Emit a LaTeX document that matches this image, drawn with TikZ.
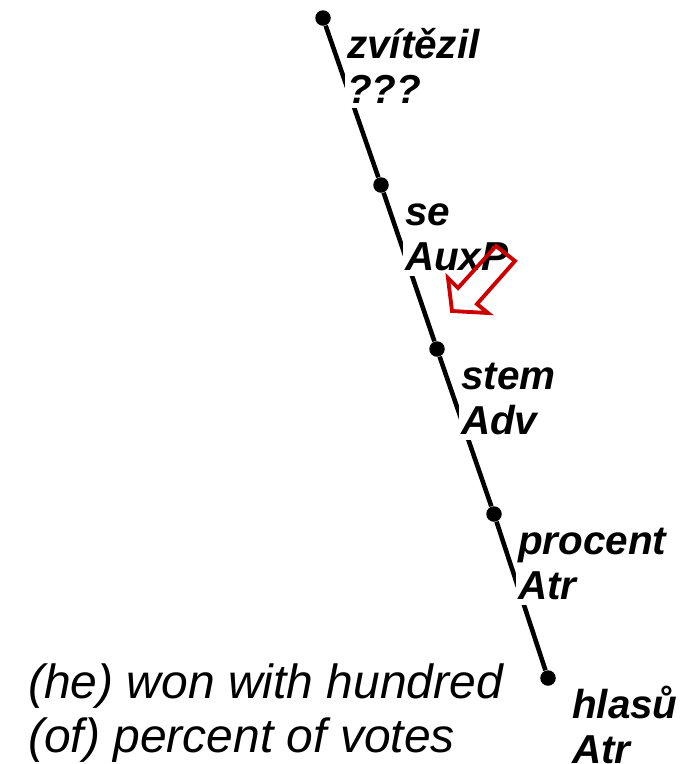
\documentclass[tikz,border=0pt]{standalone}
\usepackage{fontspec}
\setmainfont{Liberation Sans}
\usetikzlibrary{calc,positioning}
\definecolor{hintred}{RGB}{204,0,0}

\begin{document}
\begin{tikzpicture}[x=0.2mm, y=-0.2mm]
    \tikzset{dotnode/.style={circle, fill=black, minimum size=3.1mm, inner sep=0pt}}
    \tikzset{wordlabel/.style={anchor=base west, fill=white, inner xsep=1pt, inner ysep=3pt, font=\fontsize{23}{27}\selectfont\bfseries\itshape}}
    \useasboundingbox (0,0) rectangle (689,764);

    % TREE NODES
    \foreach \k/\px/\py in {1/323/18, 2/381/185, 3/437/349, 4/494/514, 5/548/678} {
        \node[dotnode] (n\k) at (\px,\py) {};
    }

    % EDGES
    \draw[line width=2.6pt] (n1)--(n2)--(n3)--(n4)--(n5);

    % WORD AND TAG LABELS
    \foreach \k/\w/\t in {1/zvítězil/???, 2/se/AuxP, 3/stem/Adv, 4/procent/Atr, 5/hlasů/Atr} {
        \node[wordlabel] (w\k) at ($(n\k)+(22,40)$) {\w};
        \node[wordlabel] (t\k) at ($(n\k)+(22,85)$) {\t};
    }

    % GLOSS
    \node[anchor=base west, align=left, font=\fontsize{27.3}{30.2}\selectfont\itshape] (gloss) at (22,752) {(he) won with hundred\\(of) percent of votes};

    % HINT ARROW
    \draw[hintred, line width=2.2pt] (496,246) -- (458,288) -- (448,278) -- (452,311) -- (488,313) -- (477,304) -- (515,261) -- cycle;
\end{tikzpicture}
\end{document}
